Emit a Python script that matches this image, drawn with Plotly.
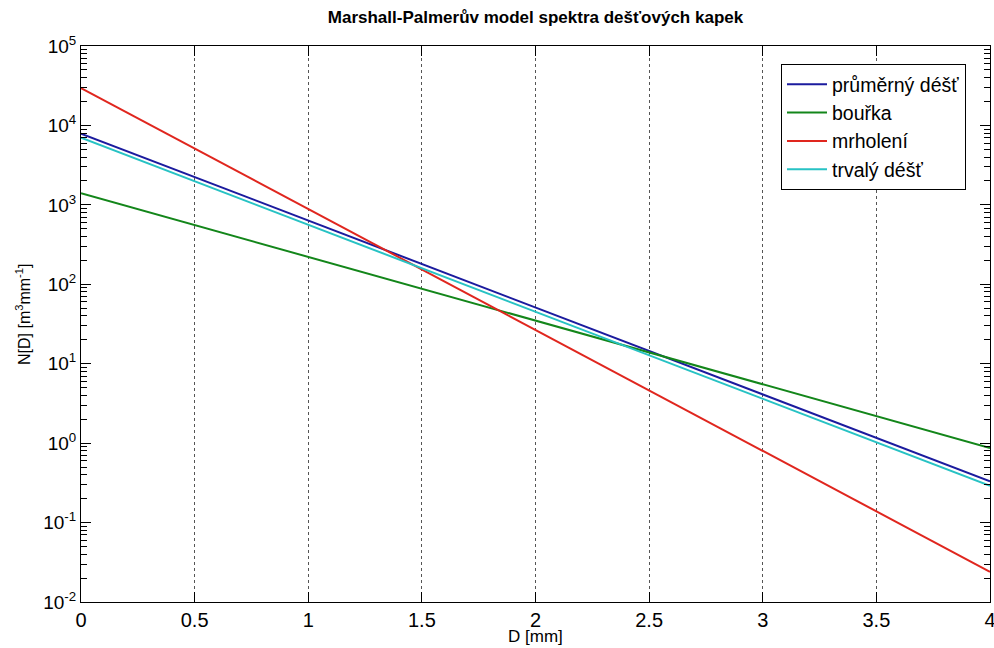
import plotly.graph_objects as go

# Data (straight lines on a log axis)
D = [0, 4]
prumerny = [7900, 0.33]
bourka = [1400, 0.87]
mrholeni = [29500, 0.024]
trvaly = [7000, 0.29]

series_names = ["průměrný déšť", "bouřka", "mrholení", "trvalý déšť"]
series_vals = [prumerny, bourka, mrholeni, trvaly]
colors = ["#1b1b9e", "#13861a", "#e0261e", "#27c2c4"]

x_ticks = [0, 0.5, 1, 1.5, 2, 2.5, 3, 3.5, 4]
x_ticktext = ["0", "0.5", "1", "1.5", "2", "2.5", "3", "3.5", "4"]
y_ticks = [1e-2, 1e-1, 1e0, 1e1, 1e2, 1e3, 1e4, 1e5]
y_ticktext = ["10<sup>-2</sup>", "10<sup>-1</sup>", "10<sup>0</sup>", "10<sup>1</sup>",
              "10<sup>2</sup>", "10<sup>3</sup>", "10<sup>4</sup>", "10<sup>5</sup>"]

minor_vals = [m * 10 ** k for k in range(-2, 5) for m in range(2, 10)]

fig = go.Figure()
for name, vals, c in zip(series_names, series_vals, colors):
    fig.add_trace(go.Scatter(x=D, y=vals, mode="lines", name=name,
                             line=dict(color=c, width=2)))

font = "Liberation Sans, Arial, sans-serif"
fig.update_layout(
    template="none",
    width=994, height=648,
    margin=dict(l=81, r=4, t=46, b=46, autoexpand=False),
    plot_bgcolor="white", paper_bgcolor="white",
    font=dict(family=font, color="black"),
    title=dict(text="Marshall-Palmerův model spektra dešťových kapek",
               x=535.5 / 994, xanchor="center", y=1 - 17 / 648, yanchor="middle",
               font=dict(size=17, family=font, color="black", weight="bold")),
    showlegend=True,
    legend=dict(x=0.9736, y=0.9676, xanchor="right", yanchor="top",
                bgcolor="white", bordercolor="black", borderwidth=1,
                font=dict(size=19.5, family=font, color="black"),
                itemwidth=40, tracegroupgap=0),
    annotations=[
        dict(text="N[D] [m<sup>3</sup>mm<sup>-1</sup>]", textangle=-90,
             xref="paper", yref="paper", x=-(81 - 23) / 909, y=(602 - 314) / 556,
             xanchor="center", yanchor="middle", showarrow=False,
             font=dict(size=16, family=font, color="black")),
        dict(text="D [mm]", xref="paper", yref="paper", x=0.5, y=-(648 - 602) / 556,
             xanchor="center", yanchor="bottom", showarrow=False,
             font=dict(size=17, family=font, color="black")),
    ],
)
fig.update_xaxes(
    range=[0, 4], tickvals=x_ticks, ticktext=x_ticktext, automargin=False,
    ticks="inside", ticklen=10, tickcolor="black", tickwidth=1,
    showline=True, linecolor="black", linewidth=1, mirror="allticks",
    showgrid=True, gridcolor="#555555", griddash="dot", gridwidth=1,
    zeroline=False, ticklabeloverflow="allow",
    tickfont=dict(size=20, family=font, color="black"),
)
fig.update_yaxes(
    type="log", range=[-2, 5], tickvals=y_ticks, ticktext=y_ticktext, automargin=False,
    ticks="inside", ticklen=10, tickcolor="black", tickwidth=1,
    showline=True, linecolor="black", linewidth=1, mirror="allticks",
    showgrid=False, zeroline=False,
    minor=dict(tickmode="array", tickvals=minor_vals, ticks="inside", ticklen=6,
               tickwidth=1, tickcolor="black", showgrid=False),
    tickfont=dict(size=19, family=font, color="black"),
)

fig.write_html("out.html")
